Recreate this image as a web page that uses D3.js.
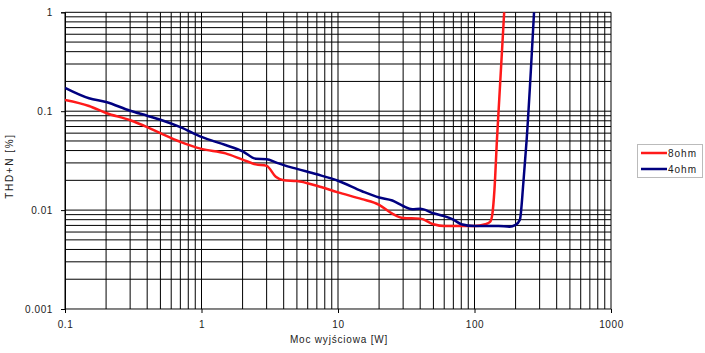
<!DOCTYPE html>
<html>
<head>
<meta charset="utf-8">
<script src="https://cdn.jsdelivr.net/npm/d3@7/dist/d3.min.js"></script>
<style>
  html, body { margin: 0; padding: 0; background: #fff; }
  svg { display: block; font-family: "Liberation Sans", Arial, sans-serif; }
</style>
</head>
<body>
<svg id="chart" width="705" height="353"></svg>
<script>
// Data
const power8 = [0.1, 0.15, 0.2, 0.3, 0.4, 0.5, 0.7, 1, 1.5, 2, 2.5, 3, 3.5, 4, 5, 7, 10, 15, 20, 25, 30, 40, 50, 60, 100, 120, 130, 135, 140, 146, 165];
const thd8   = [0.130, 0.113, 0.096, 0.081, 0.069, 0.060, 0.049, 0.0416, 0.0375, 0.0324, 0.029, 0.028, 0.0217, 0.020, 0.0197, 0.0176, 0.0151, 0.0129, 0.0113, 0.0092, 0.0083, 0.0082, 0.0072, 0.0069, 0.0069, 0.0072, 0.0076, 0.0090, 0.016, 0.051, 1];

const power4 = [0.1, 0.15, 0.2, 0.3, 0.4, 0.5, 0.7, 1, 1.5, 2, 2.5, 3, 3.5, 4, 5, 7, 10, 15, 20, 25, 30, 35, 40, 50, 60, 70, 80, 100, 150, 180, 200, 215, 228, 241, 273];
const thd4   = [0.172, 0.135, 0.124, 0.101, 0.090, 0.082, 0.069, 0.055, 0.0455, 0.0393, 0.033, 0.0327, 0.0304, 0.0285, 0.0261, 0.023, 0.0198, 0.0155, 0.0134, 0.0125, 0.0110, 0.0102, 0.0103, 0.0093, 0.0087, 0.0080, 0.0072, 0.0069, 0.0069, 0.0068, 0.0071, 0.0080, 0.0189, 0.0513, 1];

const seriesNames = ["8ohm", "4ohm"];
const seriesColors = ["#ff1a1a", "#000080"];
const xTickValues = [0.1, 1, 10, 100, 1000];
const xTickLabels = ["0.1", "1", "10", "100", "1000"];
const yTickValues = [0.001, 0.01, 0.1, 1];
const yTickLabels = ["0.001", "0.01", "0.1", "1"];
const xTitle = "Moc wyjściowa [W]";
const yTitle = "THD+N [%]";

(function () {
const svg = d3.select("#chart");
const L = 65, R = 611, T = 12.3, B = 309;

const x = d3.scaleLog().domain([0.1, 1000]).range([L, R]);
const y = d3.scaleLog().domain([0.001, 1]).range([B, T]);

// minor grid values
const xGrid = [];
for (let e = -1; e < 3; e++) for (let m = 1; m <= 9; m++) xGrid.push(m * Math.pow(10, e));
xGrid.push(1000);
const yGrid = [];
for (let e = -3; e < 0; e++) for (let m = 1; m <= 9; m++) yGrid.push(m * Math.pow(10, e));
yGrid.push(1);

const g = svg.append("g");
g.selectAll("line.vg").data(xGrid).join("line").attr("class", "vg")
  .attr("x1", d => x(d)).attr("x2", d => x(d))
  .attr("y1", T).attr("y2", B)
  .attr("stroke", "#000").attr("stroke-width", 1);
g.selectAll("line.hg").data(yGrid).join("line").attr("class", "hg")
  .attr("y1", d => y(d)).attr("y2", d => y(d))
  .attr("x1", L).attr("x2", R)
  .attr("stroke", "#000").attr("stroke-width", 1);

// axes
const xAxis = d3.axisBottom(x).tickValues(xTickValues)
  .tickFormat((d, i) => xTickLabels[i]).tickSize(4).tickPadding(8);
const gx = svg.append("g").attr("transform", `translate(0,${B})`).call(xAxis);
gx.select(".domain").attr("stroke", "#888");
gx.selectAll("text").attr("font-size", 10).attr("fill", "#222").style("letter-spacing", "0.6px");

const yAxis = d3.axisLeft(y).tickValues(yTickValues)
  .tickFormat((d, i) => yTickLabels[i]).tickSize(4).tickPadding(8);
const gy = svg.append("g").attr("transform", `translate(${L},0)`).call(yAxis);
gy.select(".domain").attr("stroke", "#000");
gy.selectAll("text").attr("font-size", 10).attr("fill", "#222").style("letter-spacing", "0.6px");

// lines
const line = d3.line().x(d => x(d[0])).y(d => y(d[1])).curve(d3.curveMonotoneX);
svg.append("clipPath").attr("id", "clip").append("rect")
  .attr("x", L).attr("y", T - 1).attr("width", R - L).attr("height", B - T + 1);
const datasets = [d3.zip(power8, thd8), d3.zip(power4, thd4)];
svg.append("g").attr("clip-path", "url(#clip)")
  .selectAll("path").data(datasets).join("path")
  .attr("d", line).attr("fill", "none")
  .attr("stroke", (d, i) => seriesColors[i]).attr("stroke-width", 2.5)
  .attr("stroke-linejoin", "round");

// titles
svg.append("text").attr("x", 339).attr("y", 343).attr("text-anchor", "middle")
  .attr("font-size", 10).attr("fill", "#222").style("letter-spacing", "0.8px").text(xTitle);
svg.append("text").attr("transform", "translate(13,166) rotate(-90)").attr("text-anchor", "middle")
  .attr("font-size", 10).attr("fill", "#222").style("letter-spacing", "1.6px").text(yTitle);

// legend
const lg = svg.append("g");
lg.append("rect").attr("x", 637.5).attr("y", 144.5).attr("width", 65).attr("height", 33)
  .attr("fill", "#fff").attr("stroke", "#bbb").attr("stroke-width", 1);
seriesNames.forEach((n, i) => {
  const yy = 153 + i * 16;
  lg.append("line").attr("x1", 641).attr("x2", 667).attr("y1", yy).attr("y2", yy)
    .attr("stroke", seriesColors[i]).attr("stroke-width", 2.5);
  lg.append("text").attr("x", 668).attr("y", yy + 3.5).attr("font-size", 10).attr("fill", "#222")
    .style("letter-spacing", "1px").text(n);
});
})();
</script>
</body>
</html>
